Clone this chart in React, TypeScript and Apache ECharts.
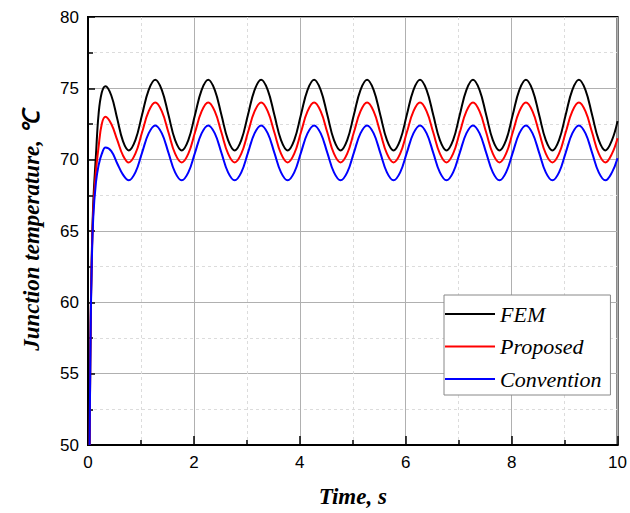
import React, { useEffect, useRef } from "react";
import * as echarts from "echarts";

const times = [
  0.03, 0.05, 0.07, 0.1, 0.15, 0.2, 0.26, 0.33, 0.44, 0.55, 0.66, 0.77,
  0.895, 1.02, 1.145, 1.27, 1.395, 1.52, 1.645, 1.77,
  1.895, 2.02, 2.145, 2.27, 2.395, 2.52, 2.645, 2.77,
  2.895, 3.02, 3.145, 3.27, 3.395, 3.52, 3.645, 3.77,
  3.895, 4.02, 4.145, 4.27, 4.395, 4.52, 4.645, 4.77,
  4.895, 5.02, 5.145, 5.27, 5.395, 5.52, 5.645, 5.77,
  5.895, 6.02, 6.145, 6.27, 6.395, 6.52, 6.645, 6.77,
  6.895, 7.02, 7.145, 7.27, 7.395, 7.52, 7.645, 7.77,
  7.895, 8.02, 8.145, 8.27, 8.395, 8.52, 8.645, 8.77,
  8.895, 9.02, 9.145, 9.27, 9.395, 9.52, 9.645, 9.77,
  9.895, 10.0,
];

const femValues = [
  50, 58.5, 63, 67, 70.3, 73.2, 74.7, 75.15, 74.5, 72.9, 71.3, 70.65,
  71.37, 73.13, 74.88, 75.6, 74.88, 73.13, 71.37, 70.65,
  71.37, 73.13, 74.88, 75.6, 74.88, 73.13, 71.37, 70.65,
  71.37, 73.13, 74.88, 75.6, 74.88, 73.13, 71.37, 70.65,
  71.37, 73.13, 74.88, 75.6, 74.88, 73.13, 71.37, 70.65,
  71.37, 73.13, 74.88, 75.6, 74.88, 73.13, 71.37, 70.65,
  71.37, 73.13, 74.88, 75.6, 74.88, 73.13, 71.37, 70.65,
  71.37, 73.13, 74.88, 75.6, 74.88, 73.13, 71.37, 70.65,
  71.37, 73.13, 74.88, 75.6, 74.88, 73.13, 71.37, 70.65,
  71.37, 73.13, 74.88, 75.6, 74.88, 73.13, 71.37, 70.65,
  71.37, 72.7,
];

const proposedValues = [
  50, 58.3, 62.8, 66.5, 69.2, 70.9, 72.5, 73.0, 72.5, 71.4, 70.3, 69.8,
  70.42, 71.9, 73.38, 74.0, 73.38, 71.9, 70.42, 69.8,
  70.42, 71.9, 73.38, 74.0, 73.38, 71.9, 70.42, 69.8,
  70.42, 71.9, 73.38, 74.0, 73.38, 71.9, 70.42, 69.8,
  70.42, 71.9, 73.38, 74.0, 73.38, 71.9, 70.42, 69.8,
  70.42, 71.9, 73.38, 74.0, 73.38, 71.9, 70.42, 69.8,
  70.42, 71.9, 73.38, 74.0, 73.38, 71.9, 70.42, 69.8,
  70.42, 71.9, 73.38, 74.0, 73.38, 71.9, 70.42, 69.8,
  70.42, 71.9, 73.38, 74.0, 73.38, 71.9, 70.42, 69.8,
  70.42, 71.9, 73.38, 74.0, 73.38, 71.9, 70.42, 69.8,
  70.42, 71.5,
];

const conventionValues = [
  50, 58, 62.5, 66, 68.4, 69.6, 70.4, 70.85, 70.6, 69.75, 68.95, 68.55,
  69.11, 70.48, 71.84, 72.4, 71.84, 70.48, 69.11, 68.55,
  69.11, 70.48, 71.84, 72.4, 71.84, 70.48, 69.11, 68.55,
  69.11, 70.48, 71.84, 72.4, 71.84, 70.48, 69.11, 68.55,
  69.11, 70.48, 71.84, 72.4, 71.84, 70.48, 69.11, 68.55,
  69.11, 70.48, 71.84, 72.4, 71.84, 70.48, 69.11, 68.55,
  69.11, 70.48, 71.84, 72.4, 71.84, 70.48, 69.11, 68.55,
  69.11, 70.48, 71.84, 72.4, 71.84, 70.48, 69.11, 68.55,
  69.11, 70.48, 71.84, 72.4, 71.84, 70.48, 69.11, 68.55,
  69.11, 70.48, 71.84, 72.4, 71.84, 70.48, 69.11, 68.55,
  69.11, 70.1,
];

const seriesNames = ["FEM", "Proposed", "Convention"];
const seriesColors = ["#000000", "#ff0000", "#0000ff"];

export default function App() {
  const ref = useRef<HTMLDivElement>(null);
  useEffect(() => {
    if (!ref.current) return;
    const chart = echarts.init(ref.current, null, { renderer: "svg" });
    const valueSets = [femValues, proposedValues, conventionValues];
    const axisLabelStyle = {
      color: "#000",
      fontFamily: "Liberation Sans, Arial, sans-serif",
      fontSize: 17,
    };
    const titleStyle = {
      color: "#000",
      fontFamily: "Liberation Serif, Times New Roman, serif",
      fontSize: 23,
      fontStyle: "italic" as const,
      fontWeight: "bold" as const,
    };
    chart.setOption({
      animation: false,
      backgroundColor: "#fff",
      grid: {
        left: 88,
        right: 9,
        top: 17,
        bottom: 67,
        show: true,
        borderColor: "#000",
        borderWidth: 2,
        backgroundColor: "transparent",
      },
      legend: {
        orient: "vertical",
        left: 444,
        top: 295,
        icon: "rect",
        itemWidth: 50,
        itemHeight: 2,
        itemGap: 10.5,
        padding: [8, 9, 5, 1],
        backgroundColor: "#fff",
        borderColor: "#888",
        borderWidth: 1,
        textStyle: {
          color: "#000",
          fontFamily: "Liberation Serif, Times New Roman, serif",
          fontSize: 22,
          lineHeight: 22,
          fontStyle: "italic",
        },
        data: seriesNames,
      },
      xAxis: {
        type: "value",
        min: 0,
        max: 10,
        interval: 2,
        name: "Time, s",
        nameLocation: "middle",
        nameGap: 40,
        nameTextStyle: titleStyle,
        axisLine: { show: true, onZero: false, lineStyle: { color: "#000", width: 2 } },
        axisTick: { show: true, inside: true, length: 9, lineStyle: { color: "#000", width: 1.5 } },
        minorTick: { show: true, splitNumber: 2, length: 5, lineStyle: { color: "#000", width: 1.5 } },
        axisLabel: { ...axisLabelStyle, margin: 9 },
        splitLine: { show: true, lineStyle: { color: "#b0b0b0", width: 1 } },
        minorSplitLine: { show: true, lineStyle: { color: "#dcdcdc", width: 1, type: [3, 3] } },
      },
      yAxis: {
        type: "value",
        min: 50,
        max: 80,
        interval: 5,
        name: "Junction temperature, ℃",
        nameLocation: "middle",
        nameGap: 45,
        nameTextStyle: titleStyle,
        axisLine: { show: true, onZero: false, lineStyle: { color: "#000", width: 2 } },
        axisTick: { show: true, inside: true, length: 7, lineStyle: { color: "#000", width: 1.5 } },
        minorTick: { show: true, splitNumber: 2, length: 5, lineStyle: { color: "#000", width: 1.5 } },
        axisLabel: { ...axisLabelStyle, margin: 9 },
        splitLine: { show: true, lineStyle: { color: "#b0b0b0", width: 1 } },
        minorSplitLine: { show: true, lineStyle: { color: "#dcdcdc", width: 1, type: [3, 3] } },
      },
      series: seriesNames.map((name, i) => ({
        name,
        type: "line",
        smooth: 0.4,
        showSymbol: false,
        symbol: "none",
        clip: true,
        color: seriesColors[i],
        lineStyle: { color: seriesColors[i], width: 2 },
        data: times.map((t, j) => [t, valueSets[i][j]]),
        z: 3 + i,
      })),
    });
    return () => chart.dispose();
  }, []);
  return <div ref={ref} style={{ width: 630, height: 513, position: "absolute", left: 0, top: 0 }} />;
}
